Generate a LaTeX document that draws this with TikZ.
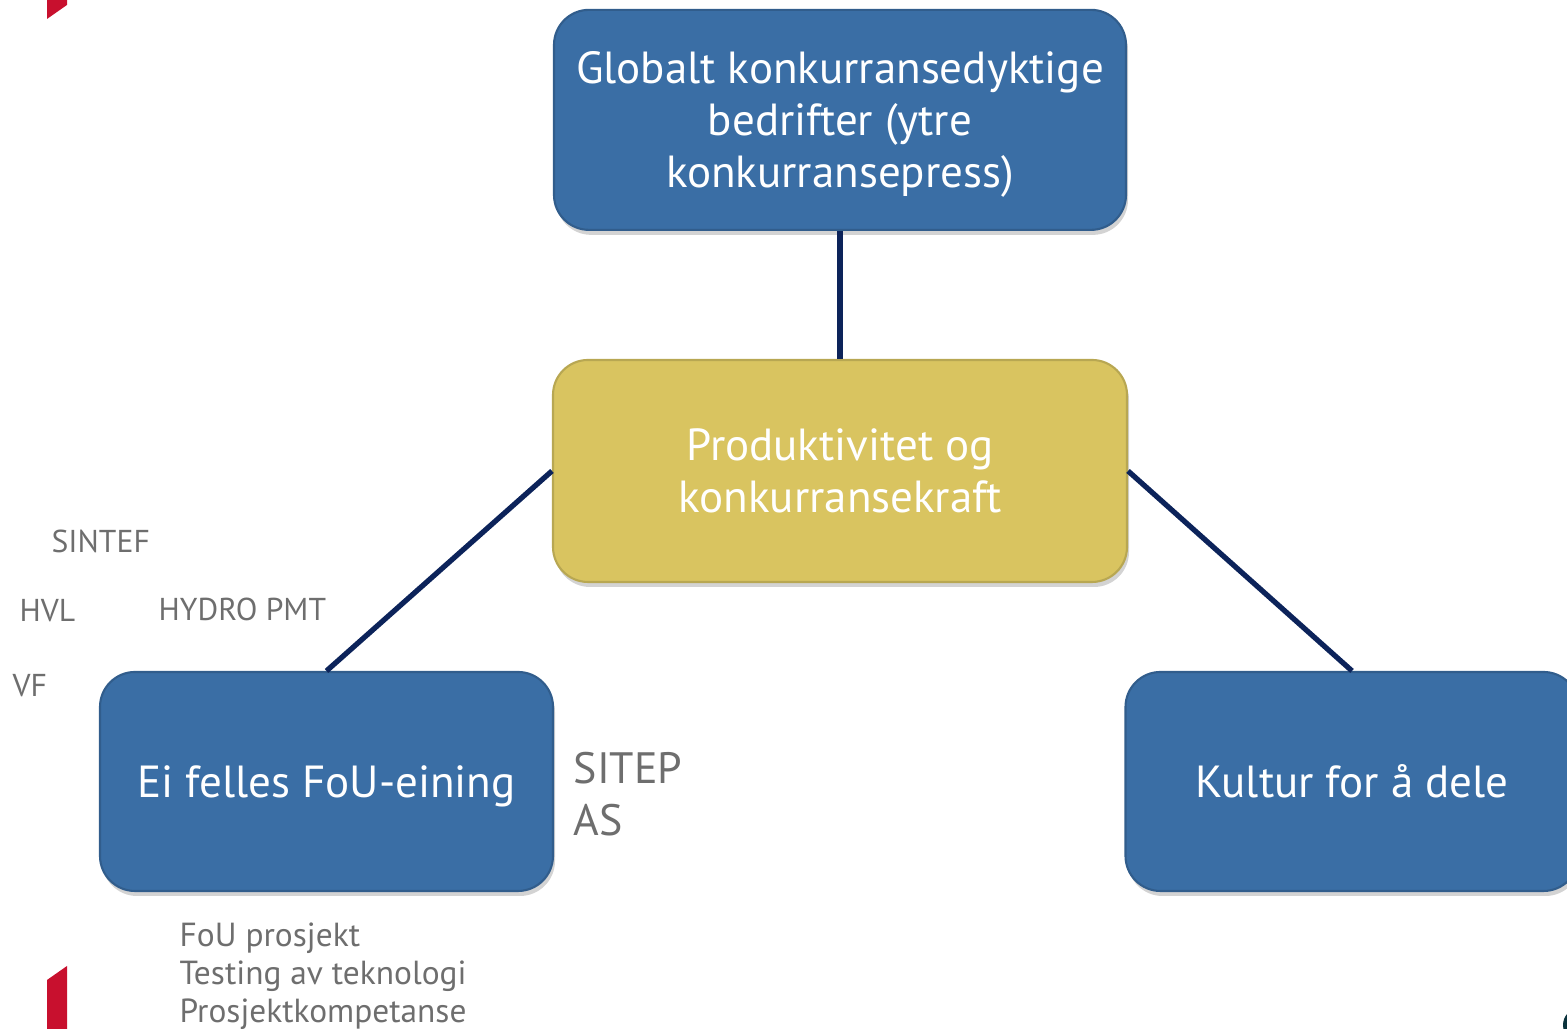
\documentclass[tikz,border=0pt]{standalone}
\usepackage{fontspec}
\setmainfont{PT Sans}
\usetikzlibrary{positioning, shadows}
\definecolor{BoxBlue}{RGB}{58,110,165}
\definecolor{BoxGold}{RGB}{217,196,96}
\definecolor{LinkNavy}{RGB}{12,35,90}
\definecolor{NoteGrey}{RGB}{110,110,110}
\definecolor{MarkRed}{RGB}{200,16,46}
\definecolor{LogoTeal}{RGB}{10,50,60}

\begin{document}
\begin{tikzpicture}[
            box/.style={rectangle, rounded corners=0.35cm, fill=BoxBlue, draw=BoxBlue!85!black,
                        line width=0.6pt, minimum width=4.53cm, minimum height=2.19cm,
                        align=center, text=white, text depth=0pt,
                        font=\fontsize{12.8}{14.8}\selectfont,
                        drop shadow={opacity=0.35, shadow xshift=0.02cm, shadow yshift=-0.05cm}},
            gold/.style={box, fill=BoxGold, draw=BoxGold!85!black},
            note/.style={anchor=west, align=left, inner sep=0pt, text=NoteGrey,
                         font=\fontsize{9}{10.8}\selectfont},
            link/.style={LinkNavy, line width=1.5pt}
        ]
            \clip (0,0) rectangle (15.67,10.29);

            % corner marks
            \fill[MarkRed] (0.47,10.29) -- (0.67,10.29) -- (0.67,10.24) -- (0.47,10.10) -- cycle;
            \fill[MarkRed] (0.47,0) -- (0.47,0.49) -- (0.67,0.63) -- (0.67,0) -- cycle;
            \fill[LogoTeal] (15.80,0.04) circle (0.17);

            \node[gold, minimum width=5.74cm, minimum height=2.22cm] (prod) at (8.40,5.58)
                {Produktivitet og\\konkurransekraft};
            \node[box, minimum width=5.72cm, minimum height=2.20cm, above=1.28cm of prod] (global)
                {Globalt konkurransedyktige\\bedrifter (ytre\\konkurransepress)};
            \node[box] (fou) at (3.265,2.475) {Ei felles FoU-eining};
            \node[box] (kultur) at (13.52,2.475) {Kultur for å dele};

            \node[note] (sintef) at (0.51,4.88) {SINTEF};
            \node[note] (hvl) at (0.19,4.18) {HVL};
            \node[note] (hydro) at (1.58,4.20) {HYDRO PMT};
            \node[note] (vf) at (0.12,3.43) {VF};
            \node[note, font=\fontsize{12.5}{14.8}\selectfont] (sitep) at (5.73,2.35) {SITEP\\AS};
            \node[note, anchor=north west, font=\fontsize{9.5}{10.8}\selectfont] (tasks) at (1.79,1.07)
                {FoU prosjekt\\Testing av teknologi\\Prosjektkompetanse};

            \draw[link] (global) -- (prod);
            \draw[link] (prod.west) -- (fou.north);
            \draw[link] (prod.east) -- (kultur.north);
        \end{tikzpicture}
\end{document}
